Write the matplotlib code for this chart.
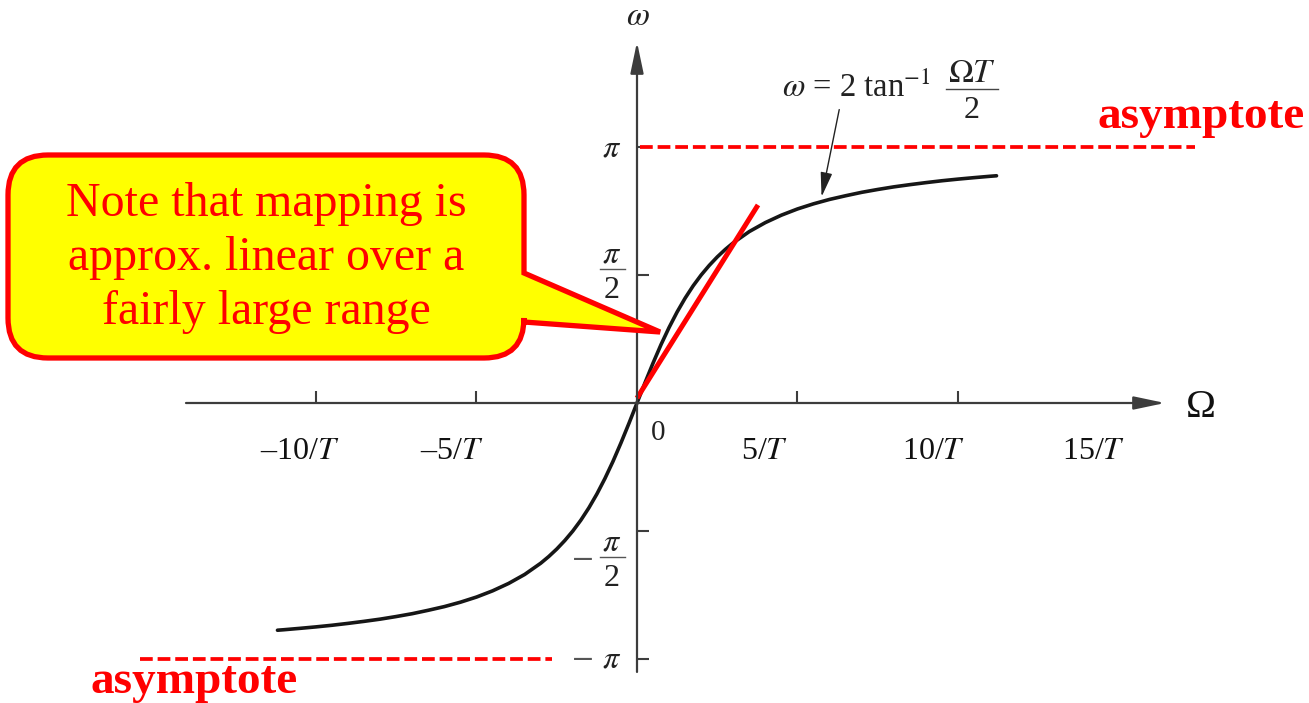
import numpy as np
import matplotlib
matplotlib.use("Agg")
import matplotlib.pyplot as plt
from matplotlib.path import Path
from matplotlib.patches import PathPatch
from matplotlib.lines import Line2D

plt.rcParams['font.family'] = ['Liberation Serif', 'DejaVu Serif']
plt.rcParams['mathtext.fontset'] = 'stix'

# Analog frequency (units of 1/T) and warped digital frequency (rad)
analog_freq = [-11.2, -11, -10.5, -10, -9.5, -9, -8.5, -8, -7.5, -7, -6.5, -6, -5.5,
               -5, -4.5, -4, -3.5, -3, -2.75, -2.5, -2.25, -2, -1.75, -1.5, -1.25,
               -1, -0.75, -0.5, -0.25, 0, 0.25, 0.5, 0.75, 1, 1.25, 1.5, 1.75, 2,
               2.25, 2.5, 2.75, 3, 3.5, 4, 4.5, 5, 5.5, 6, 6.5, 7, 7.5, 8, 8.5, 9,
               9.5, 10, 10.5, 11, 11.2]
digital_freq = [-2.788, -2.782, -2.765, -2.747, -2.727, -2.704, -2.679, -2.652, -2.620,
                -2.585, -2.543, -2.498, -2.444, -2.381, -2.305, -2.214, -2.104, -1.966,
                -1.884, -1.792, -1.688, -1.571, -1.438, -1.287, -1.117, -0.927, -0.718,
                -0.490, -0.249, 0.0, 0.249, 0.490, 0.718, 0.927, 1.117, 1.287, 1.438,
                1.571, 1.688, 1.792, 1.884, 1.966, 2.104, 2.214, 2.305, 2.381, 2.444,
                2.498, 2.543, 2.585, 2.620, 2.652, 2.679, 2.704, 2.727, 2.747, 2.765,
                2.782, 2.788]

# Straight-line approximation near the origin
linear_x = [0.0, 3.77]
linear_y = [0.06, 2.43]

# Asymptote levels and their drawn extents
asym_levels = [np.pi, -np.pi]
asym_spans = [(0.1, 17.38), (-15.48, -2.65)]

x_ticks = [-10, -5, 5, 10]
x_label_pos = [-10, -5, 5, 10, 15]
x_labels = ['\u2013' + '10/$T$', '\u2013' + '5/$T$', '5/$T$', '10/$T$', '15/$T$']
y_ticks = [-np.pi, -np.pi / 2, np.pi / 2, np.pi]

callout_lines = ["Note that mapping is", "approx. linear over a", "fairly large range"]

W, H = 1309, 703
fig = plt.figure(figsize=(W / 100, H / 100), dpi=100)
ax = fig.add_axes([0, 0, 1, 1])
ax.set_xlim(-637 / 32.1, (W - 637) / 32.1)
ax.set_ylim(-(H - 403) / 81.5, 403 / 81.5)
ax.axis('off')

axis_col = '#3c3c3c'
# coordinate axes with arrowheads
arrow_style = '-|>,head_length=0.95,head_width=0.2'
ax.annotate('', xy=(16.45, 0), xytext=(-14.05, 0),
            arrowprops=dict(arrowstyle=arrow_style, mutation_scale=20, lw=1.6,
                            color=axis_col, shrinkA=0, shrinkB=0))
ax.annotate('', xy=(0, 4.43), xytext=(0, -3.30),
            arrowprops=dict(arrowstyle=arrow_style, mutation_scale=20, lw=1.6,
                            color=axis_col, shrinkA=0, shrinkB=0))

# tick marks
ax.vlines(x_ticks, 0, 0.147, color=axis_col, lw=1.5)
ax.hlines(y_ticks, 0, 0.37, color=axis_col, lw=1.5)

# x tick labels
for xp, lab in zip(x_label_pos, x_labels):
    ax.text(xp - 1.75, -0.687, lab, ha='left', va='baseline', fontsize=23, color='#111')
ax.text(0.65, -0.45, '0', ha='center', va='baseline', fontsize=21, color='#222')

# y tick labels
ylab_kw = dict(ha='center', va='baseline', fontsize=23, color='#222')
lx, bar_l, bar_r, mx = -0.78, -1.15, -0.37, -1.71


def frac_pi_2(ybar, sign):
    ax.text(lx, ybar + 0.075, r'$\pi$', **ylab_kw)
    ax.plot([bar_l, bar_r], [ybar, ybar], color='#555', lw=1.0)
    ax.text(lx, ybar - 0.36, '2', **ylab_kw)
    if sign < 0:
        ax.text(mx, ybar, r'$-$', ha='center', va='center', fontsize=23, color='#555')


ax.text(lx, np.pi - 0.12, r'$\pi$', **ylab_kw)
frac_pi_2(np.pi / 2 + 0.073, 1)
frac_pi_2(-np.pi / 2 - 0.32, -1)
ax.text(lx, -np.pi - 0.10, r'$\pi$', **ylab_kw)
ax.text(mx, -np.pi + 0.025, r'$-$', ha='center', va='center', fontsize=23, color='#555')

# axis names
ax.text(17.57, -0.17, '\u03a9', ha='center', va='baseline', fontsize=29, color='#111')
ax.text(0.03, 4.64, r'$\omega$', ha='center', va='baseline', fontsize=24, color='#222')

# asymptotes
for lvl, (x0, x1) in zip(asym_levels, asym_spans):
    ax.plot([x0, x1], [lvl, lvl], color='#ff0000', lw=2.7, dashes=(3.4, 1.3),
            solid_capstyle='butt', dash_capstyle='butt')

# mapping curve
ax.plot(analog_freq, digital_freq, color='#161616', lw=2.6, solid_capstyle='round',
        solid_joinstyle='round')

# linear approximation
ax.plot(linear_x, linear_y, color='#ff0000', lw=3.6, solid_capstyle='butt')

# curve annotation
ax.annotate('', xy=(5.75, 2.53), xytext=(6.3, 3.60),
            arrowprops=dict(arrowstyle='-|>,head_length=0.75,head_width=0.18',
                            mutation_scale=20, lw=1.0, color='#222',
                            shrinkA=0, shrinkB=0))

# overlay in pixel units for the callout and notes
ov = fig.add_axes([0, 0, 1, 1], zorder=5)
ov.set_xlim(0, W)
ov.set_ylim(H, 0)
ov.axis('off')

ov.text(782, 97, r'$\omega$ = 2 tan$^{-1}$', ha='left', va='baseline',
        fontsize=23.5, color='#222')
ov.text(972, 82, r'$\Omega T$', ha='center', va='baseline', fontsize=24, color='#222')
ov.add_line(Line2D([946, 998], [89, 89], color='#444', lw=1.0))
ov.text(972, 118, '2', ha='center', va='baseline', fontsize=23, color='#222')

# rounded callout with pointer
L, R, T, B, r = 8, 524, 155, 358, 40
tail_top, tail_bot, tip = 273, 322, (660, 332)
verts = [(L + r, T), (R - r, T), (R, T), (R, T + r), (R, tail_top), tip,
         (R, tail_bot), (R, B - r), (R, B), (R - r, B), (L + r, B), (L, B),
         (L, B - r), (L, T + r), (L, T), (L + r, T), (L + r, T)]
codes = [Path.MOVETO, Path.LINETO, Path.CURVE3, Path.CURVE3, Path.LINETO,
         Path.LINETO, Path.LINETO, Path.LINETO, Path.CURVE3, Path.CURVE3,
         Path.LINETO, Path.CURVE3, Path.CURVE3, Path.LINETO, Path.CURVE3,
         Path.CURVE3, Path.CLOSEPOLY]
ov.add_patch(PathPatch(Path(verts, codes), facecolor='#ffff00', edgecolor='#ff0000',
                       lw=3.8, joinstyle='miter'))

for i, line in enumerate(callout_lines):
    ov.text(266, 216 + 54 * i, line, ha='center', va='baseline', fontsize=34.5,
            color='#ff0000')

ov.text(1305, 128, 'asymptote', ha='right', va='baseline', fontsize=34,
        weight='bold', color='#ff0000')
ov.text(90, 693, 'asymptote', ha='left', va='baseline', fontsize=34,
        weight='bold', color='#ff0000')

fig.savefig('out.png', dpi=100, facecolor='white')
